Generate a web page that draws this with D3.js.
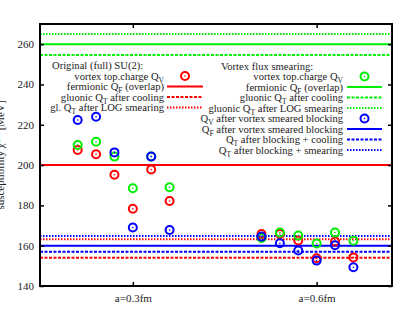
<!DOCTYPE html>
<html>
<head>
<meta charset="utf-8">
<script src="https://cdn.jsdelivr.net/npm/d3@7"></script>
<style>
  body { margin: 0; background: #fff; }
  text { font-family: "Liberation Serif", "DejaVu Serif", serif; }
</style>
</head>
<body>
<div id="vis"></div>
<script>
// frame
const FRAME_WIDTH = 399;
const FRAME_HEIGHT = 319;
const MARGINS = {left: 40, right: 7, top: 24, bottom: 33};

// data
const lattices = ["a=0.3fm", "a=0.6fm"];
const configOffsets = [-0.3, -0.2, -0.1, 0, 0.1, 0.2];
const yTicks = [140, 160, 180, 200, 220, 240, 260];

// vortex top. charge Q_V per configuration
const qvOriginal = [[207.5, 205.4, 195.2, 178.3, 197.8, 182.2],
                    [165.8, 165.8, 162.6, 153.8, 162.1, 154.2]];
const qvSmeared  = [[210.0, 211.6, 204.2, 188.5, 204.3, 189.0],
                    [163.8, 166.5, 165.0, 161.1, 166.5, 162.5]];
const qvBlocked  = [[222.4, 224.0, 206.3, 169.0, 204.2, 167.8],
                    [164.5, 161.2, 157.6, 152.6, 160.2, 149.3]];

// reference lines: fermionic, after cooling, after smearing
const linesOriginal = [200.0, 154.0, 163.2];
const linesSmeared  = [260.0, 254.6, 265.0];
const linesBlocked  = [160.0, 157.0, 164.8];

const RED = "#ff0000", GREEN = "#00ee00", BLUE = "#0000ff";
const DASHES = [null, "3,1.5", "1.5,1.5"];
const FONT = "10.6px";

const svg = d3.select("#vis").append("svg")
  .attr("width", FRAME_WIDTH)
  .attr("height", FRAME_HEIGHT);

const X = d3.scaleLinear().domain([0.495, 2.41])
  .range([MARGINS.left, FRAME_WIDTH - MARGINS.right]);
const Y = d3.scaleLinear().domain([140, 270])
  .range([FRAME_HEIGHT - MARGINS.bottom, MARGINS.top]);

// horizontal lines
function hlines(vals, color) {
  svg.append("g").selectAll("line").data(vals).enter().append("line")
    .attr("x1", X.range()[0]).attr("x2", X.range()[1])
    .attr("y1", d => Y(d)).attr("y2", d => Y(d))
    .attr("stroke", color).attr("stroke-width", 2)
    .attr("stroke-dasharray", (d, i) => DASHES[i]);
}
hlines(linesOriginal, RED);
hlines(linesSmeared, GREEN);
hlines(linesBlocked, BLUE);

// points
function marker(g, x, y, color) {
  g.append("circle").attr("cx", x).attr("cy", y).attr("r", 4)
    .attr("fill", "none").attr("stroke", color).attr("stroke-width", 2);
  g.append("circle").attr("cx", x).attr("cy", y).attr("r", 0.8).attr("fill", color);
}
function points(series, color) {
  const g = svg.append("g");
  series.forEach((vals, li) => {
    vals.forEach((v, ci) => marker(g, X(li + 1 + configOffsets[ci]), Y(v), color));
  });
}
points(qvOriginal, RED);
points(qvSmeared, GREEN);
points(qvBlocked, BLUE);

// axes
const yAxis = d3.axisLeft(Y).tickValues(yTicks).tickSize(-4).tickPadding(6).tickFormat(d3.format("d"));
svg.append("g").attr("transform", "translate(" + MARGINS.left + ",0)").call(yAxis)
  .call(g => g.select(".domain").remove())
  .attr("font-size", "11px").attr("font-family", "Liberation Serif");
svg.append("g").attr("transform", "translate(" + X.range()[1] + ",0)")
  .call(d3.axisRight(Y).tickValues(yTicks).tickSize(-4).tickFormat(""))
  .call(g => g.select(".domain").remove());
svg.append("g").attr("transform", "translate(0," + Y.range()[0] + ")")
  .call(d3.axisBottom(X).tickValues([1, 2]).tickSize(-4).tickPadding(8).tickFormat((d, i) => lattices[i]))
  .call(g => g.select(".domain").remove())
  .attr("font-size", "11px").attr("font-family", "Liberation Serif");
svg.append("g").attr("transform", "translate(0," + Y.range()[1] + ")")
  .call(d3.axisTop(X).tickValues([1, 2]).tickSize(-4).tickFormat(""))
  .call(g => g.select(".domain").remove());
svg.selectAll(".tick line").attr("stroke", "#000").attr("stroke-width", 1.5);
svg.selectAll(".tick text").attr("fill", "#222");

svg.append("rect")
  .attr("x", X.range()[0]).attr("y", Y.range()[1])
  .attr("width", X.range()[1] - X.range()[0])
  .attr("height", Y.range()[0] - Y.range()[1])
  .attr("fill", "none").attr("stroke", "#000").attr("stroke-width", 2);

// y label (partly cut off on the left edge, as in the original)
const yl = svg.append("text")
  .attr("transform", "translate(4," + ((Y.range()[0] + Y.range()[1]) / 2) + ") rotate(-90)")
  .attr("text-anchor", "middle").attr("font-size", "11px").attr("fill", "#222");
yl.append("tspan").text("susceptibility χ");
yl.append("tspan").attr("dy", -4).attr("font-size", "8px").text("1/4");
yl.append("tspan").attr("dy", 4).text(" [MeV]");

// legends
const legendLeft = [
  {pre: "vortex top.charge Q", sub: "V", post: "", kind: "point", color: RED},
  {pre: "fermionic Q", sub: "F", post: " (overlap)", kind: 0, color: RED},
  {pre: "gluonic Q", sub: "T", post: " after cooling", kind: 1, color: RED},
  {pre: "gl. Q", sub: "T", post: " after LOG smearing", kind: 2, color: RED}
];
const legendRight = [
  {pre: "vortex top.charge Q", sub: "V", post: "", kind: "point", color: GREEN},
  {pre: "fermionic Q", sub: "F", post: " (overlap)", kind: 0, color: GREEN},
  {pre: "gluonic Q", sub: "T", post: " after cooling", kind: 1, color: GREEN},
  {pre: "gluonic Q", sub: "T", post: " after LOG smearing", kind: 2, color: GREEN},
  {pre: "Q", sub: "V", post: " after vortex smeared blocking", kind: "point", color: BLUE},
  {pre: "Q", sub: "F", post: " after vortex smeared blocking", kind: 0, color: BLUE},
  {pre: "Q", sub: "T", post: " after blocking + cooling", kind: 1, color: BLUE},
  {pre: "Q", sub: "T", post: " after blocking + smearing", kind: 2, color: BLUE}
];

function legend(title, titleX, entries, textX, x1, x2, y0) {
  const g = svg.append("g").attr("font-size", FONT);
  const rowH = 10.5;
  g.append("text").attr("x", titleX).attr("y", y0).attr("dy", "0.35em")
    .attr("fill", "#222").text(title);
  entries.forEach((e, i) => {
    const y = y0 + rowH * (i + 1);
    const t = g.append("text").attr("x", textX).attr("y", y).attr("dy", "0.35em")
      .attr("text-anchor", "end").attr("fill", "#222");
    t.append("tspan").text(e.pre);
    t.append("tspan").attr("dy", 3).attr("font-size", "7.5px").text(e.sub);
    t.append("tspan").attr("dy", -3).text(e.post);
    if (e.kind === "point") {
      marker(g, (x1 + x2) / 2, y, e.color);
    } else {
      g.append("line").attr("x1", x1).attr("x2", x2).attr("y1", y).attr("y2", y)
        .attr("stroke", e.color).attr("stroke-width", 2)
        .attr("stroke-dasharray", DASHES[e.kind]);
    }
  });
}
legend("Original (full) SU(2):", 52, legendLeft, 164, 167, 203, 65.5);
legend("Vortex flux smearing:", 221, legendRight, 343, 347, 382, 66);
</script>
</body>
</html>
